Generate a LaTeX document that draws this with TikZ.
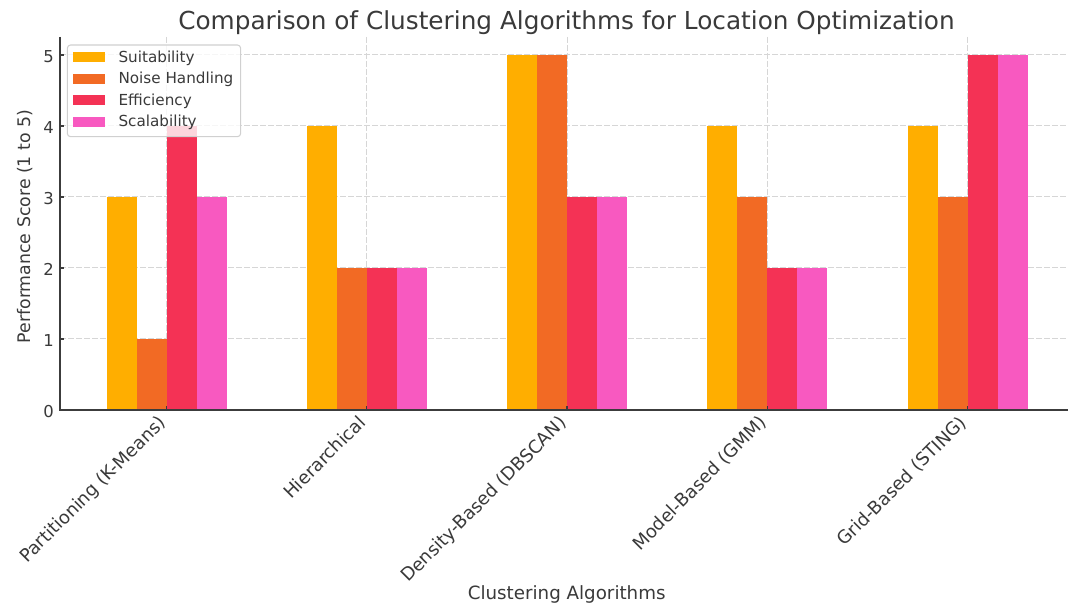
\documentclass[tikz,border=0pt]{standalone}
\usepackage{fontspec}
\setmainfont{DejaVu Sans}
\begin{document}
\begin{tikzpicture}[x=0.75pt,y=-0.75pt,
  txt/.style={text=textgray, inner sep=0pt},
  gridline/.style={draw=gridgray, line width=0.75pt, dash pattern=on 4.2pt off 1.8pt},
  spine/.style={draw=spinegray, line width=1.1pt},
  tickmark/.style={draw=spinegray, line width=0.8pt}]
\definecolor{textgray}{RGB}{58,58,58}
\definecolor{gridgray}{RGB}{214,214,214}
\definecolor{spinegray}{RGB}{60,60,60}
\definecolor{cSuit}{RGB}{255,174,0}
\definecolor{cNoise}{RGB}{242,106,36}
\definecolor{cEff}{RGB}{244,50,85}
\definecolor{cScal}{RGB}{248,89,192}
\definecolor{legframe}{RGB}{208,208,208}

\useasboundingbox (0,0) rectangle (1068,605);
\fill[white] (0,0) rectangle (1068,605);

% grid
\foreach \v in {1,...,5}
  \draw[gridline] (60,{410-71*\v}) -- (1068,{410-71*\v});
\foreach \g in {0,...,4}
  \draw[gridline] ({166.5+200.25*\g},37) -- ({166.5+200.25*\g},410);

% bars: group index / values (suitability, noise, efficiency, scalability)
\foreach \g/\a/\b/\c/\d in {0/3/1/4/3, 1/4/2/2/2, 2/5/5/3/3, 3/4/3/2/2, 4/4/3/5/5}{
  \pgfmathsetmacro{\cx}{166.5+200.25*\g}
  \fill[cSuit]  ({\cx-60},410) rectangle ({\cx-30},{410-71*\a});
  \fill[cNoise] ({\cx-30},410) rectangle ({\cx},{410-71*\b});
  \fill[cEff]   ({\cx},410) rectangle ({\cx+30},{410-71*\c});
  \fill[cScal]  ({\cx+30},410) rectangle ({\cx+60},{410-71*\d});
}

% spines and inward ticks
\draw[spine] (60,37) -- (60,410) -- (1068,410);
\foreach \v in {0,...,5}
  \draw[tickmark] (60,{410-71*\v}) -- (64,{410-71*\v});
\foreach \g in {0,...,4}
  \draw[tickmark] ({166.5+200.25*\g},410) -- ({166.5+200.25*\g},406);

% y tick labels
\foreach \v in {0,...,5}
  \node[txt, anchor=east, font=\fontsize{12.3}{14}\selectfont] (yt\v) at (54,{411.2-71*\v}) {\v};

% x tick labels
\foreach \g/\lab in {0/Partitioning (K-Means), 1/Hierarchical, 2/Density-Based (DBSCAN), 3/Model-Based (GMM), 4/Grid-Based (STING)}
  \node[txt, rotate=45, anchor=north east, font=\fontsize{13.5}{16}\selectfont] (xt\g) at ({157+200.25*\g},414) {\lab};

% axis labels and title
\node[txt, anchor=base, font=\fontsize{13.7}{16}\selectfont] (xlabel) at (566.7,600) {Clustering Algorithms};
\node[txt, rotate=90, anchor=center, font=\fontsize{13}{15}\selectfont] (ylabel) at (25.5,226.5) {Performance Score (1 to 5)};
\node[txt, anchor=base, font=\fontsize{18.56}{22}\selectfont] (title) at (566.5,30) {Comparison of Clustering Algorithms for Location Optimization};

% legend
\draw[draw=legframe, fill=white, fill opacity=0.8, line width=0.8pt, rounded corners=2.5pt] (67.3,45) rectangle (240.7,136.7);
\foreach \i/\col/\lab in {0/cSuit/Suitability, 1/cNoise/Noise Handling, 2/cEff/Efficiency, 3/cScal/Scalability}{
  \fill[\col] (73.3,{52.5+21.5*\i}) rectangle (105,{62.5+21.5*\i});
  \node[txt, anchor=base west, font=\fontsize{11.4}{13}\selectfont] (leg\i) at (118.3,{62.5+21.5*\i}) {\lab};
}
\end{tikzpicture}
\end{document}
